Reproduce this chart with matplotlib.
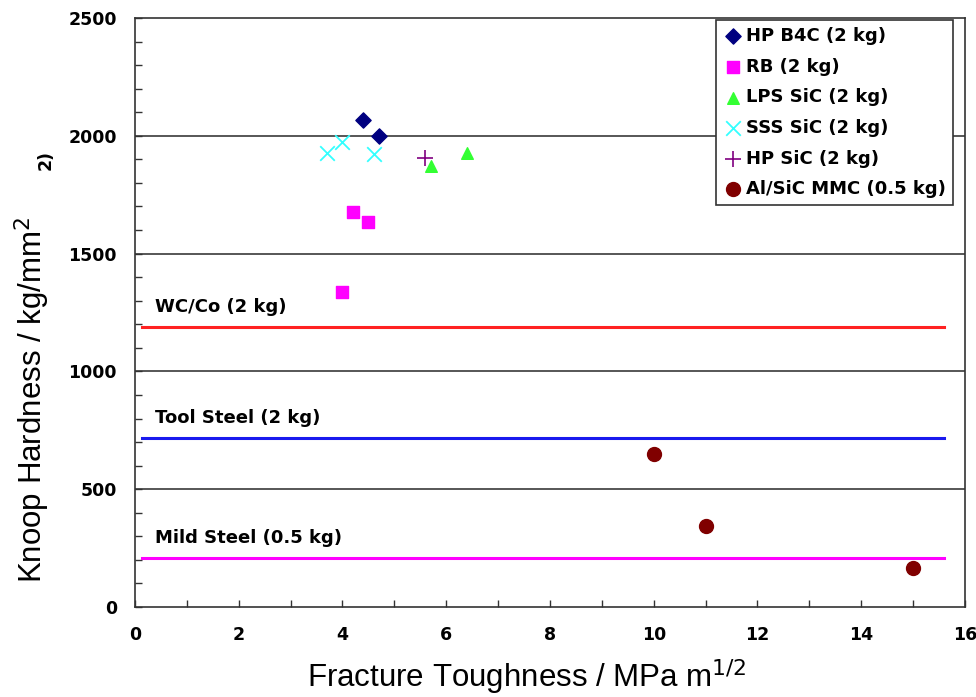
import matplotlib.pyplot as plt
from matplotlib.ticker import MultipleLocator

plt.rcParams['font.family'] = ['Liberation Sans', 'DejaVu Sans']

# point series: fracture toughness (MPa m^1/2) vs Knoop hardness (kg/mm2)
hp_b4c_x = [4.4, 4.7]
hp_b4c_y = [2068, 2000]
rb_x = [4.2, 4.5, 4.0]
rb_y = [1676, 1632, 1335]
lps_x = [5.7, 6.4]
lps_y = [1870, 1928]
sss_x = [3.7, 4.0, 4.6]
sss_y = [1926, 1972, 1922]
hpsic_x = [5.6]
hpsic_y = [1906]
alsic_x = [10, 11, 15]
alsic_y = [648, 344, 166]

# reference lines
ref_names = ['WC/Co (2 kg)', 'Tool Steel (2 kg)', 'Mild Steel (0.5 kg)']
ref_values = [1190, 718, 208]
ref_colors = ['#ff2222', '#1a1aee', '#ff00ff']

bold = {'family': 'DejaVu Sans', 'weight': 'bold', 'size': 13}

fig = plt.figure(figsize=(9.76, 6.97), dpi=100)
ax = fig.add_axes([0.1383, 0.1291, 0.8504, 0.8451])

# grid lines
for v in [500, 1000, 1500, 2000]:
    ax.axhline(v, color='#3a3a3a', lw=1.2, zorder=1)

for name, v, c in zip(ref_names, ref_values, ref_colors):
    ax.plot([0.13, 15.6], [v, v], color=c, lw=2.2, zorder=2)
    ax.text(0.39, v + 62, name, fontdict=bold, va='baseline', ha='left')

ax.scatter(hp_b4c_x, hp_b4c_y, marker='D', s=60, color='#000080', label='HP B4C (2 kg)', zorder=3)
ax.scatter(rb_x, rb_y, marker='s', s=70, color='#ff00ff', label='RB (2 kg)', zorder=3)
ax.scatter(lps_x, lps_y, marker='^', s=70, color='#33ff33', label='LPS SiC (2 kg)', zorder=3)
ax.scatter(sss_x, sss_y, marker='x', s=110, color='#33ffff', linewidths=1.3, label='SSS SiC (2 kg)', zorder=3)
ax.scatter(hpsic_x, hpsic_y, marker='+', s=130, color='#800080', linewidths=1.2, label='HP SiC (2 kg)', zorder=3)
ax.scatter(alsic_x, alsic_y, marker='o', s=100, color='#800000', label='Al/SiC MMC (0.5 kg)', zorder=3)

ax.set_xlim(0, 16)
ax.set_ylim(0, 2500)
ax.xaxis.set_major_locator(MultipleLocator(2))
ax.xaxis.set_minor_locator(MultipleLocator(1))
ax.yaxis.set_major_locator(MultipleLocator(500))
ax.yaxis.set_minor_locator(MultipleLocator(100))
ax.tick_params(which='both', direction='in', length=5, width=1, color='#333333')
ax.tick_params(axis='x', which='both', top=False, pad=14)
ax.tick_params(axis='y', which='both', right=False, pad=13)
for lab in ax.get_xticklabels() + ax.get_yticklabels():
    lab.set_fontfamily('DejaVu Sans')
    lab.set_fontweight('bold')
    lab.set_fontsize(12.5)
for sp in ax.spines.values():
    sp.set_color('#333333')
    sp.set_linewidth(1.2)

# axis titles
fig.text(527 / 976, 1 - 677 / 697, 'Fracture Toughness / MPa m$^{1/2}$', fontsize=22.5,
         ha='center', va='center')
fig.text(32 / 976, 1 - 400 / 697, 'Knoop Hardness / kg/mm$^2$', fontsize=22.5,
         rotation=90, ha='center', va='center')
fig.text(46 / 976, 1 - 160 / 697, '2)', rotation=90, fontsize=12.5, fontweight='bold',
         family='DejaVu Sans', ha='center', va='center')

leg = ax.legend(loc='upper right', bbox_to_anchor=(0.988, 1.0), frameon=True, fancybox=False,
                prop=bold, handletextpad=0.15, handlelength=1.1,
                borderpad=0.4, labelspacing=0.7, borderaxespad=0.1)
leg.get_frame().set_edgecolor('#333333')
leg.get_frame().set_linewidth(1.2)
leg.get_frame().set_alpha(1)

fig.savefig('out.png', dpi=100)
